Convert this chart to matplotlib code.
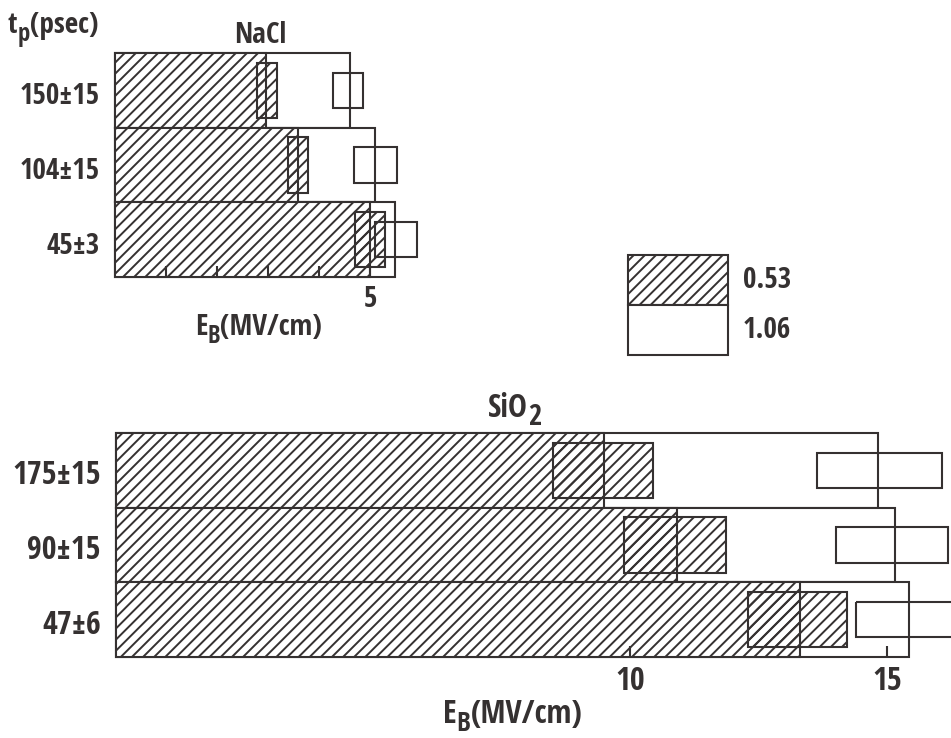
import matplotlib

matplotlib.use("Agg")
import matplotlib.pyplot as plt
from matplotlib import font_manager
from matplotlib.font_manager import FontProperties
from matplotlib.patches import Rectangle
from matplotlib.transforms import ScaledTranslation

# breakdown field E_B (MV/cm) against pulse length t_p (psec)
# green = 0.53 um, ir = 1.06 um; lo/hi are the ends of the error boxes
nacl_pulse = ["150±15", "104±15", "45±3"]
nacl_green = [2.96, 3.59, 5.00]
nacl_green_lo = [2.78, 3.39, 4.71]
nacl_green_hi = [3.18, 3.78, 5.29]
nacl_ir = [4.61, 5.10, 5.49]
nacl_ir_lo = [4.27, 4.69, 5.10]
nacl_ir_hi = [4.86, 5.53, 5.92]

sio2_pulse = ["175±15", "90±15", "47±6"]
sio2_green = [9.49, 10.91, 13.31]
sio2_green_lo = [8.50, 9.88, 12.30]
sio2_green_hi = [10.45, 11.87, 14.22]
sio2_ir = [14.82, 15.16, 15.43]
sio2_ir_lo = [13.64, 14.01, 14.40]
sio2_ir_hi = [16.07, 16.19, 16.46]

wavelengths = ["0.53", "1.06"]
nacl_ticks = [1, 2, 3, 4, 5]
nacl_ticklabels = ["", "", "", "", "5"]
sio2_ticks = [10, 15]
sio2_ticklabels = ["10", "15"]

W, H = 951, 738
INK = "#353131"
LW = 1.5
HATCH = "///"
GREEN_BOX_H = 0.74
IR_BOX_H = 0.47
FS_NACL = 21
FS_SIO2 = 23

plt.rcParams["hatch.linewidth"] = 1.4


def pick_font():
    # a bold condensed face looks closest to the typeset original
    wanted = (
        "Open Sans Condensed",
        "Liberation Sans Narrow",
        "Roboto Condensed",
        "DejaVu Sans Condensed",
    )
    entries = font_manager.fontManager.ttflist

    def weight(f):
        w = f.weight
        return w if isinstance(w, int) else font_manager.weight_dict.get(w, 400)

    for name in wanted:
        for f in entries:
            if f.name == name and weight(f) >= 600 and f.style == "normal":
                return f.fname
    for f in entries:
        if f.stretch in ("condensed", "semi-condensed") and weight(f) >= 600:
            return f.fname
    return None


FONT_FILE = pick_font()


def fprop(size):
    if FONT_FILE:
        return FontProperties(fname=FONT_FILE, size=size)
    return FontProperties(family="DejaVu Sans", weight="bold", size=size)


def px_axes(fig, left, top, right, bottom):
    return fig.add_axes([left / W, 1 - bottom / H, (right - left) / W, (bottom - top) / H])


def piecewise_text(fig, x, y, pieces, size):
    # pieces: (text, drop in px, relative size) written along one baseline
    renderer = fig.canvas.get_renderer()
    for s, drop, rel in pieces:
        t = fig.text(x / W, 1 - (y + drop) / H, s, fontproperties=fprop(size * rel),
                     color=INK, ha="left", va="baseline")
        x = t.get_window_extent(renderer).x1


def panel(fig, ax, labels, green, green_lo, green_hi, ir, ir_lo, ir_hi, size, xmax):
    rows = range(len(labels))
    ax.barh(rows, ir, height=1.0, left=0, color="white", edgecolor=INK, lw=LW, clip_on=False)
    ax.barh(rows, green, height=1.0, left=0, color="white", edgecolor=INK, lw=LW,
            hatch=HATCH, clip_on=False)
    for i in rows:
        ax.add_patch(Rectangle((green_lo[i], i - GREEN_BOX_H / 2), green_hi[i] - green_lo[i],
                               GREEN_BOX_H, fill=False, edgecolor=INK, lw=LW, hatch=HATCH))
        ax.add_patch(Rectangle((ir_lo[i], i - IR_BOX_H / 2), ir_hi[i] - ir_lo[i],
                               IR_BOX_H, fill=False, edgecolor=INK, lw=LW))
    ax.set_xlim(0, xmax)
    ax.set_ylim(len(labels) - 0.5, -0.5)
    for side in ax.spines.values():
        side.set_visible(False)
    ax.set_yticks([])
    ax.tick_params(axis="x", direction="in", length=8, width=LW, color=INK, pad=6)

    # pulse-length labels, baseline a little under the row centre
    shift = ax.get_yaxis_transform() + ScaledTranslation(-0.15, -0.14, fig.dpi_scale_trans)
    for i, lab in enumerate(labels):
        ax.text(0, i, lab, transform=shift, ha="right", va="baseline",
                fontproperties=fprop(size), color=INK)


fig = plt.figure(figsize=(W / 100, H / 100), dpi=100)
fig.patch.set_facecolor("white")

# NaCl
ax1 = px_axes(fig, 115, 53, 440, 277)
panel(fig, ax1, nacl_pulse, nacl_green, nacl_green_lo, nacl_green_hi,
      nacl_ir, nacl_ir_lo, nacl_ir_hi, FS_NACL, (440 - 115) / 51.0)
ax1.set_xticks(nacl_ticks)
ax1.set_xticklabels(nacl_ticklabels, fontproperties=fprop(FS_NACL), color=INK)

# SiO2
ax2 = px_axes(fig, 116, 433, 951, 657)
panel(fig, ax2, sio2_pulse, sio2_green, sio2_green_lo, sio2_green_hi,
      sio2_ir, sio2_ir_lo, sio2_ir_hi, FS_SIO2, (951 - 116) / 51.4)
ax2.set_xticks(sio2_ticks)
ax2.set_xticklabels(sio2_ticklabels, fontproperties=fprop(FS_SIO2), color=INK)

# titles and axis labels
piecewise_text(fig, 8, 33, [("t", 0, 1), ("p", 8, 0.85), ("(psec)", 0, 1)], FS_NACL)
fig.text(260 / W, 1 - 43 / H, "NaCl", fontproperties=fprop(FS_NACL), color=INK,
         ha="center", va="baseline")
piecewise_text(fig, 195, 335, [("E", 0, 1), ("B", 8, 0.85), ("(MV/cm)", 0, 1)], FS_NACL)
piecewise_text(fig, 488, 417, [("SiO", 0, 1), ("2", 8, 0.9)], FS_SIO2)
piecewise_text(fig, 443, 723, [("E", 0, 1), ("B", 8, 0.85), ("(MV/cm)", 0, 1)], FS_SIO2)

# key: two stacked boxes
leg = px_axes(fig, 628, 255, 728, 355)
leg.set_xlim(0, 1)
leg.set_ylim(0, 2)
leg.axis("off")
leg.add_patch(Rectangle((0, 1), 1, 1, facecolor="white", edgecolor=INK, lw=LW,
                        hatch=HATCH, clip_on=False))
leg.add_patch(Rectangle((0, 0), 1, 1, facecolor="white", edgecolor=INK, lw=LW, clip_on=False))
for k, lab in enumerate(wavelengths):
    leg.text(1.15, 1.5 - k, lab, fontproperties=fprop(FS_NACL), color=INK,
             ha="left", va="center")

fig.savefig("out.png", dpi=100, facecolor="white")
